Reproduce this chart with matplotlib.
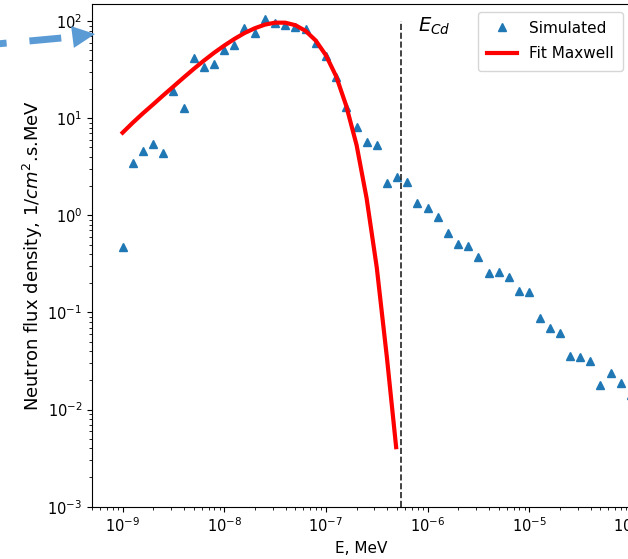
import numpy as np
import matplotlib
matplotlib.use('Agg')
import matplotlib.pyplot as plt
from matplotlib.lines import Line2D
from matplotlib.patches import Polygon

# Simulated spectrum (E in MeV, flux density in 1/cm^2.s.MeV)
energy = [1.0e-9, 1.26e-9, 1.58e-9, 2.0e-9, 2.51e-9, 3.16e-9, 3.98e-9, 5.01e-9, 6.31e-9, 7.94e-9,
          1.0e-8, 1.26e-8, 1.58e-8, 2.0e-8, 2.51e-8, 3.16e-8, 3.98e-8, 5.01e-8, 6.31e-8, 7.94e-8,
          1.0e-7, 1.26e-7, 1.58e-7, 2.0e-7, 2.51e-7, 3.16e-7, 3.98e-7, 5.01e-7, 6.31e-7, 7.94e-7,
          1.0e-6, 1.26e-6, 1.58e-6, 2.0e-6, 2.51e-6, 3.16e-6, 3.98e-6, 5.01e-6, 6.31e-6, 7.94e-6,
          1.0e-5, 1.26e-5, 1.58e-5, 2.0e-5, 2.51e-5, 3.16e-5, 3.98e-5, 5.01e-5, 6.31e-5, 7.94e-5,
          1.0e-4]
flux = [0.475, 3.5, 4.6, 5.4, 4.35, 19, 12.6, 42, 34, 36,
        51, 57, 84, 75, 106, 96, 92, 87, 82, 60,
        43.6, 26.7, 12.9, 8.2, 5.7, 5.3, 2.13, 2.46, 2.18, 1.35,
        1.2, 0.97, 0.66, 0.51, 0.486, 0.375, 0.253, 0.262, 0.23, 0.167,
        0.163, 0.087, 0.070, 0.061, 0.036, 0.035, 0.032, 0.018, 0.024, 0.0186,
        0.014]

# Maxwell fit curve
fit_energy = [1.0e-9, 1.26e-9, 1.58e-9, 2.0e-9, 2.51e-9, 3.16e-9, 3.98e-9, 5.01e-9, 6.31e-9, 7.94e-9,
              1.0e-8, 1.26e-8, 1.58e-8, 2.0e-8, 2.51e-8, 3.16e-8, 3.98e-8, 5.01e-8, 6.31e-8, 7.94e-8,
              1.0e-7, 1.26e-7, 1.58e-7, 2.0e-7, 2.51e-7, 3.16e-7, 3.98e-7, 4.9e-7]
fit_flux = [7.1, 9.0, 11.2, 13.9, 17.2, 21.2, 26.2, 32.2, 39.2, 47.2,
            56.0, 65.6, 75.3, 84.5, 92.0, 96.4, 96.3, 90.7, 79.2, 63.0,
            44.4, 27.0, 13.5, 5.3, 1.5, 0.29, 0.034, 0.0041]

e_cd = 5.5e-7

fig = plt.figure(figsize=(6.28, 5.59), dpi=100)
ax = fig.add_axes([92 / 628, (559 - 506.7) / 559, (631 - 92) / 628, (506.7 - 4) / 559])

ax.plot(energy, flux, '^', color='#1f77b4', markersize=6, label='Simulated')
ax.plot(fit_energy, fit_flux, '-', color='red', lw=3, label='Fit Maxwell')
ax.vlines(e_cd, 1e-3, 100, colors='#222222', linestyles='--', lw=1.2)
ax.text(8.0e-7, 77, r'$E_{Cd}$', fontsize=14)

ax.set_xscale('log')
ax.set_yscale('log')
ax.set_xlim(5e-10, 1e-4)
ax.set_ylim(1e-3, 150)
ax.tick_params(labelsize=10.5)
ax.set_xlabel('E, MeV', fontsize=11)
ax.set_ylabel(r'Neutron flux density, 1/$cm^2$.s.MeV', fontsize=13, labelpad=2)
ax.legend(loc='upper right', fontsize=11, borderpad=0.6, labelspacing=0.7)

# dashed arrow pointing at the axes (figure pixels, top-down)
H = 559.0
def fp(x, y):
    return x / 628.0, (H - y) / H

xs, ys = zip(fp(-60, 49.2), fp(72.5, 37))
fig.add_artist(Line2D(xs, ys, transform=fig.transFigure, color='#5b9bd5', lw=5,
                      linestyle=(3.5, (4.6, 3.3)), solid_capstyle='butt'))
fig.add_artist(Polygon([fp(71.1, 26.1), fp(73.9, 47.9), fp(95, 34)], closed=True,
                       transform=fig.transFigure, facecolor='#5b9bd5', edgecolor='none'))

fig.savefig('out.png', dpi=100)
